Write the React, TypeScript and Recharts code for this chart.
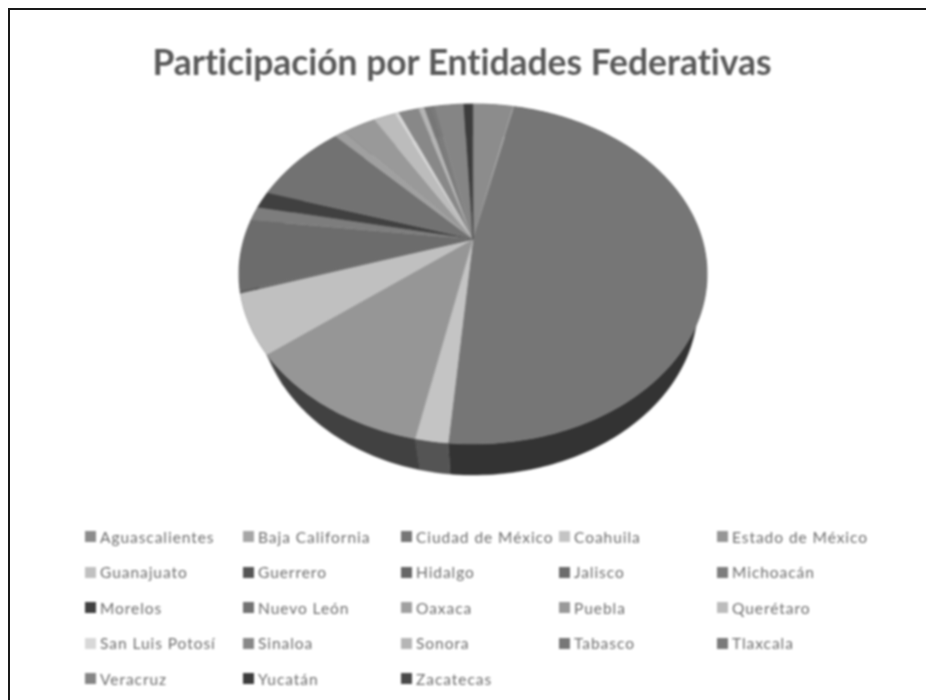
import React from "react";
import { PieChart, Pie, Legend } from "recharts";

const categories = [
  "Aguascalientes", "Baja California", "Ciudad de México", "Coahuila", "Estado de México",
  "Guanajuato", "Guerrero", "Hidalgo", "Jalisco", "Michoacán",
  "Morelos", "Nuevo León", "Oaxaca", "Puebla", "Querétaro",
  "San Luis Potosí", "Sinaloa", "Sonora", "Tabasco", "Tlaxcala",
  "Veracruz", "Yucatán", "Zacatecas",
];
const shares = [
  3.33, 0.15, 47.85, 1.86, 11.14,
  5.58, 0.08, 0.08, 6.75, 1.39,
  1.61, 8.0, 0.86, 2.78, 1.83,
  0.36, 1.69, 0.5, 0.42, 0.39,
  2.5, 0.69, 0.08,
];
const colors = [
  "#8c8c8c", "#a6a6a6", "#767676", "#c4c4c4", "#969696",
  "#c0c0c0", "#555555", "#666666", "#6c6c6c", "#7d7d7d",
  "#404040", "#727272", "#a0a0a0", "#999999", "#bcbcbc",
  "#d8d8d8", "#888888", "#b5b5b5", "#777777", "#7a7a7a",
  "#858585", "#3c3c3c", "#4a4a4a",
];

const data = categories.map((name, i) => ({ name, value: shares[i], fill: colors[i] }));

// Perspective tilt of the disc: the centre sits above the middle of the ellipse.
const TILT = 0.711;
const PERSPECTIVE = -0.2059;
const DEPTH = 31;
const BASE_SHRINK_LEFT = 0.92;
const BASE_SHRINK_RIGHT = 0.96;

const rim = (cx: number, cy: number, r: number, start: number, end: number) => {
  const pts: [number, number][] = [];
  const steps = Math.max(2, Math.ceil(Math.abs(end - start)));
  for (let i = 0; i <= steps; i++) {
    const deg = start + ((end - start) * i) / steps;
    const rad = (deg * Math.PI) / 180;
    const x = Math.cos(rad);
    const y = -Math.sin(rad);
    const w = 1 + PERSPECTIVE * y;
    pts.push([cx + (r * x) / w, cy + (TILT * r * y) / w]);
  }
  return pts;
};

const toPath = (pts: [number, number][]) =>
  "M" + pts.map((p) => `${p[0].toFixed(2)},${p[1].toFixed(2)}`).join("L") + "Z";

const shade = (hex: string, f: number) => {
  const v = Math.round(parseInt(hex.slice(1, 3), 16) * f)
    .toString(16)
    .padStart(2, "0");
  return `#${v}${v}${v}`;
};

const TopSlice = (p: any) => {
  const pts = rim(p.cx, p.cy, p.outerRadius, p.startAngle, p.endAngle);
  return <path d={toPath([[p.cx, p.cy], ...pts])} fill={p.fill} stroke={p.fill} strokeWidth={0.4} />;
};

const WallSlice = (p: any) => {
  const pts = rim(p.cx, p.cy, p.outerRadius, p.startAngle, p.endAngle);
  const low = pts
    .map(
      (q) =>
        [p.cx + (q[0] - p.cx) * (q[0] < p.cx ? BASE_SHRINK_LEFT : BASE_SHRINK_RIGHT), q[1] + DEPTH] as [number, number],
    )
    .reverse();
  const f = shade(p.fill, 0.43);
  return <path d={toPath([...pts, ...low])} fill={f} stroke={f} strokeWidth={0.4} />;
};

const GridLegend = (props: any) => {
  const seen = new Set<string>();
  const items = (props.payload || []).filter((e: any) => {
    if (seen.has(e.value)) return false;
    seen.add(e.value);
    return true;
  });
  return (
    <div
      style={{
        position: "absolute",
        left: 85,
        top: 519,
        display: "grid",
        gridTemplateColumns: "repeat(5, 158px)",
        gridAutoRows: "35.5px",
        fontFamily: "Lato, sans-serif",
        fontSize: 15.5,
        letterSpacing: 0.95,
        fontVariantLigatures: "none",
        color: "#6c6c6c",
      }}
    >
      {items.map((e: any) => (
        <div key={e.value} style={{ display: "flex", alignItems: "center", whiteSpace: "nowrap" }}>
          <span style={{ width: 11, height: 11, marginRight: 4, background: e.color, flex: "none" }} />
          {e.value}
        </div>
      ))}
    </div>
  );
};

export default function App() {
  return (
    <div
      style={{
        position: "absolute",
        left: 0,
        top: 0,
        width: 926,
        height: 700,
        overflow: "hidden",
        background: "#fff",
      }}
    >
      <div style={{ position: "absolute", left: 0, top: 0, width: 926, height: 700, filter: "blur(0.8px)" }}>
        <div
          style={{
            position: "absolute",
            left: 0,
            width: 924,
            top: 40,
            textAlign: "center",
            fontFamily: "Lato, sans-serif",
            fontWeight: 700,
            fontSize: 35.4,
            fontVariantLigatures: "none",
            lineHeight: "44px",
            color: "#595959",
          }}
        >
          Participación por Entidades Federativas
        </div>
        <PieChart
          width={926}
          height={700}
          margin={{ top: 0, right: 0, bottom: 0, left: 0 }}
          style={{ position: "absolute", left: 0, top: 0 }}
        >
          <Pie
            data={data}
            dataKey="value"
            nameKey="name"
            cx={473}
            cy={239}
            outerRadius={229}
            startAngle={90}
            endAngle={-270}
            stroke="none"
            legendType="none"
            shape={WallSlice}
            isAnimationActive={false}
          />
          <Pie
            data={data}
            dataKey="value"
            nameKey="name"
            cx={473}
            cy={239}
            outerRadius={229}
            startAngle={90}
            endAngle={-270}
            stroke="none"
            shape={TopSlice}
            isAnimationActive={false}
          />
          <Legend content={GridLegend} wrapperStyle={{ position: "absolute", left: 0, top: 0, width: 926, height: 0 }} />
        </PieChart>
      </div>
      <div style={{ position: "absolute", left: 8, top: 8, right: 0, height: 2, background: "#1a1a1a" }} />
      <div style={{ position: "absolute", left: 8, top: 8, bottom: 0, width: 2, background: "#1a1a1a" }} />
    </div>
  );
}
